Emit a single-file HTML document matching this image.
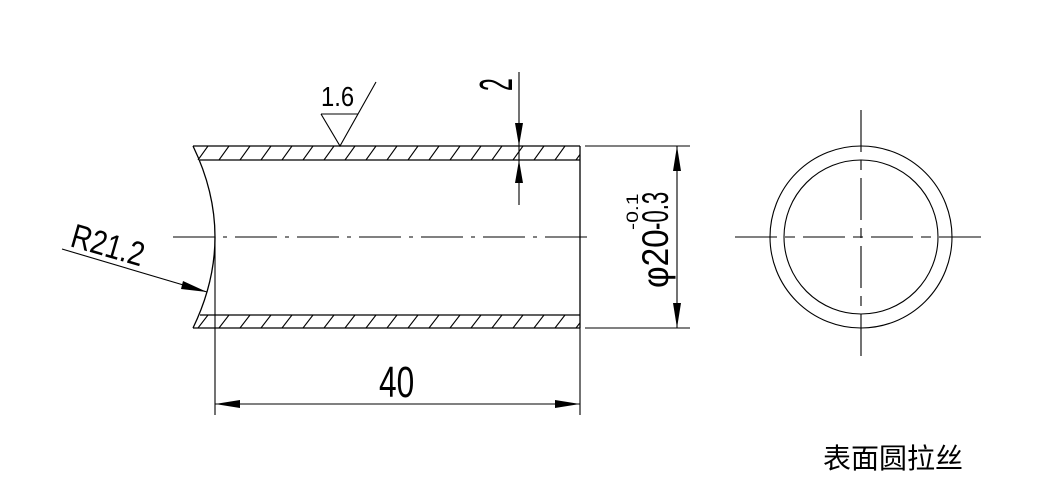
<!DOCTYPE html>
<html><head><meta charset="utf-8"><style>
html,body{margin:0;padding:0;background:#fff;}
svg{display:block;}
text{font-family:"Liberation Sans","Noto Sans CJK SC",sans-serif;fill:#000;}
</style></head><body>
<svg width="1056" height="500" viewBox="0 0 1056 500" xmlns="http://www.w3.org/2000/svg">
<defs>
<clipPath id="ct"><rect x="193" y="146" width="387" height="14"/></clipPath>
<clipPath id="cb"><rect x="193" y="315" width="387" height="13"/></clipPath>
</defs>
<g stroke="#000" stroke-width="1.3" fill="none">
<line x1="193" y1="146" x2="580" y2="146"/>
<line x1="200" y1="160" x2="580" y2="160"/>
<line x1="200" y1="315" x2="580" y2="315"/>
<line x1="193" y1="328" x2="580" y2="328"/>
<line x1="580" y1="146" x2="580" y2="328"/>
<path d="M193 146 Q237 237 193 328"/>
</g>
<g stroke="#000" stroke-width="1.1" clip-path="url(#ct)">
<path d="M198 160l10 -14 M219 160l10 -14 M240 160l10 -14 M261 160l10 -14 M282 160l10 -14 M303 160l10 -14 M324 160l10 -14 M345 160l10 -14 M366 160l10 -14 M387 160l10 -14 M408 160l10 -14 M429 160l10 -14 M450 160l10 -14 M471 160l10 -14 M492 160l10 -14 M513 160l10 -14 M534 160l10 -14 M555 160l10 -14 M576 160l10 -14"/>
</g>
<g stroke="#000" stroke-width="1.1" clip-path="url(#cb)">
<path d="M198 328l10 -13 M219 328l10 -13 M240 328l10 -13 M261 328l10 -13 M282 328l10 -13 M303 328l10 -13 M324 328l10 -13 M345 328l10 -13 M366 328l10 -13 M387 328l10 -13 M408 328l10 -13 M429 328l10 -13 M450 328l10 -13 M471 328l10 -13 M492 328l10 -13 M513 328l10 -13 M534 328l10 -13 M555 328l10 -13 M576 328l10 -13"/>
</g>
<g stroke="#000" stroke-width="1.1" fill="none">
<line x1="173" y1="237" x2="592" y2="237" stroke-dasharray="42,8,4,8"/>
<line x1="215" y1="237" x2="215" y2="415"/>
<line x1="580" y1="328" x2="580" y2="415"/>
<line x1="215" y1="404" x2="580" y2="404"/>
<line x1="585" y1="146" x2="690" y2="146"/>
<line x1="585" y1="328" x2="690" y2="328"/>
<line x1="677" y1="146" x2="677" y2="328"/>
<line x1="519" y1="72" x2="519" y2="205"/>
<path d="M321 114 L358 114 M321 114 L340 146 L376 82"/>
<line x1="62" y1="249" x2="207" y2="292"/>
<circle cx="861" cy="237" r="91"/>
<circle cx="861" cy="237" r="77"/>
<line x1="735" y1="237" x2="987" y2="237" stroke-dasharray="42,8,10,8"/>
<line x1="861" y1="110" x2="861" y2="358" stroke-dasharray="42,8,10,8"/>
</g>
<g fill="#000">
<polygon points="215,404 240,400 240,408"/>
<polygon points="580,404 555,400 555,408"/>
<polygon points="677,146 673,171 681,171"/>
<polygon points="677,328 673,303 681,303"/>
<polygon points="519,146 515,123 523,123"/>
<polygon points="519,160 515,183 523,183"/>
<polygon points="207,292 183,281 181,289"/>
</g>
<text x="0" y="0" font-size="44" transform="translate(379,397) scale(0.72,1)">40</text>
<text x="0" y="0" font-size="28" transform="translate(321,106) scale(0.85,1)">1.6</text>
<text x="0" y="0" font-size="46" transform="translate(512,91) rotate(-90) scale(0.5,1)">2</text>
<text x="0" y="0" font-size="34" transform="translate(69,246) rotate(16) scale(0.82,1)">R21.2</text>
<text x="0" y="0" font-size="37" transform="translate(668,288) rotate(-90) scale(0.9,1)">φ20</text>
<text x="0" y="0" font-size="17" transform="translate(638,230) rotate(-90) scale(1.25,1)">-0.1</text>
<text x="0" y="0" font-size="37" transform="translate(668,230) rotate(-90) scale(0.6,1)">-0.3</text>
<text x="823" y="468" font-size="28">表面圆拉丝</text>
</svg>
</body></html>
